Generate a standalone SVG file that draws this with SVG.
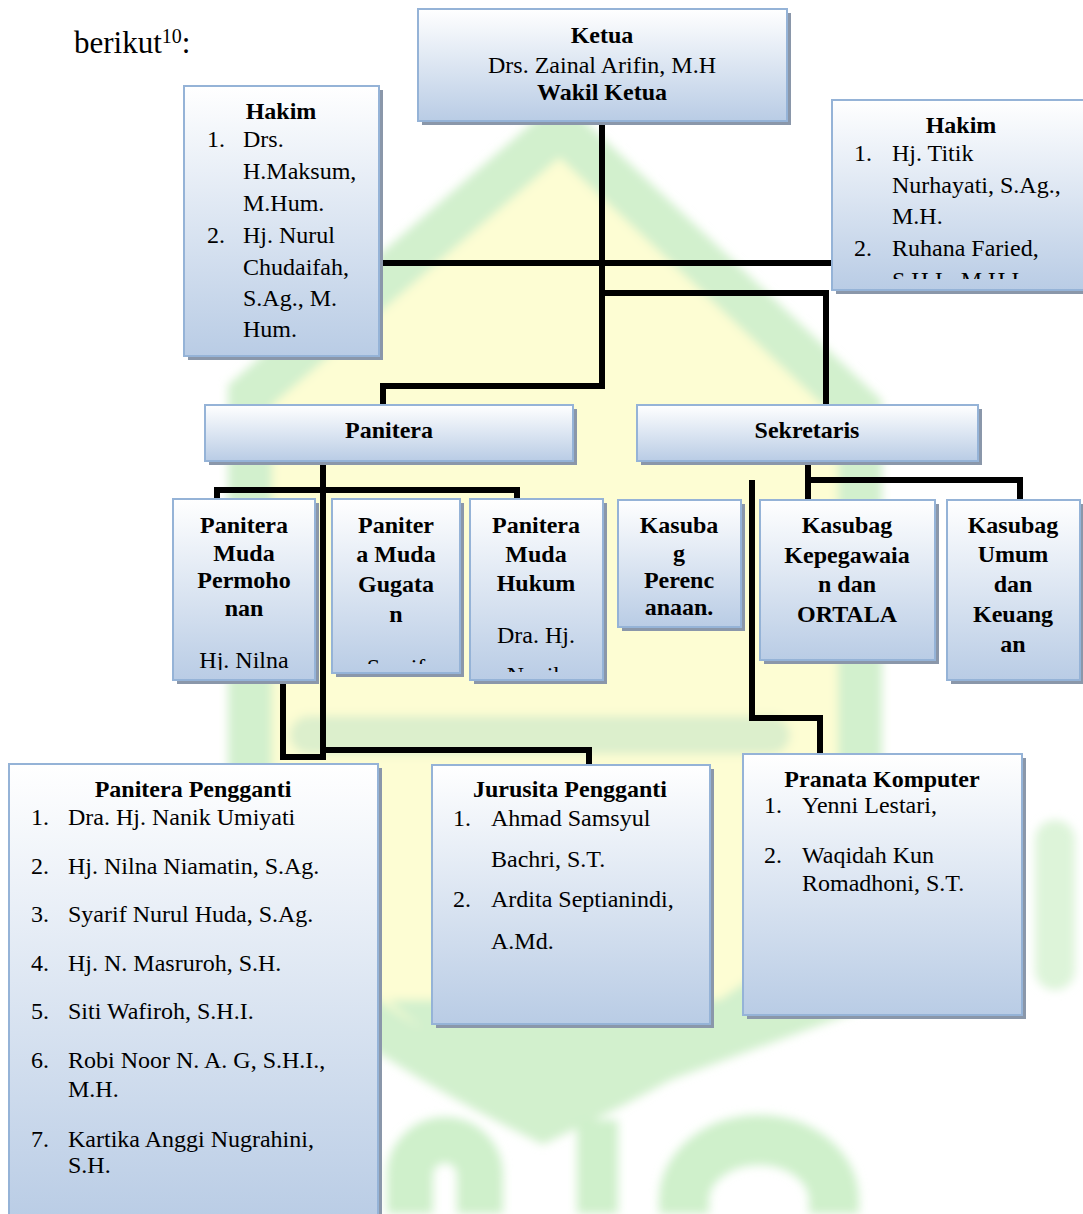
<svg xmlns="http://www.w3.org/2000/svg" width="1083" height="1214" viewBox="0 0 1083 1214">
<style>
text{font-family:"Liberation Serif","Times New Roman",serif;font-size:24px;fill:#000}
.b{font-weight:bold}
.c{text-anchor:middle}
.box{fill:url(#g);stroke:#95b3d7;stroke-width:2}
.sh{fill:#8a97aa}
.ln{fill:none;stroke:#000;stroke-width:6;stroke-linejoin:miter}
</style>
<defs>
<linearGradient id="g" x1="0" y1="0" x2="0" y2="1">
<stop offset="0" stop-color="#ffffff"/>
<stop offset="1" stop-color="#b9cce5"/>
</linearGradient>
<filter id="blur" x="-10%" y="-10%" width="120%" height="120%"><feGaussianBlur stdDeviation="5"/></filter>
<clipPath id="cHR"><rect x="832" y="100" width="260" height="179"/></clipPath>
<clipPath id="cPM1"><rect x="173" y="499" width="142" height="171"/></clipPath>
<clipPath id="cPM2"><rect x="332" y="499" width="128" height="165"/></clipPath>
<clipPath id="cPM3"><rect x="470" y="499" width="133" height="173"/></clipPath>
<clipPath id="cKP"><rect x="618" y="500" width="123" height="117"/></clipPath>
</defs>
<rect width="1083" height="1214" fill="#fff"/>
<g id="watermark" filter="url(#blur)">
<path d="M560,128 L250,395 L250,900 Q300,1000 543,1120 Q800,1000 860,900 L860,410 Z" fill="#fdfdd3" stroke="#d2f0cd" stroke-width="44"/>
<path d="M387,1000 L888,1000 L543,1127 Z" fill="#d2f0cd"/>
<rect x="290" y="716" width="500" height="38" rx="19" fill="#dcefcc"/>
<path d="M410,1214 V1175 A35,35 0 0 1 480,1175 V1214" fill="none" stroke="#cff0cb" stroke-width="46"/>
<rect x="577" y="1120" width="41" height="94" fill="#cff0cb"/>
<path d="M684,1214 V1200 A75,60 0 0 1 834,1200 V1214" fill="none" stroke="#cff0cb" stroke-width="50"/>
<rect x="1035" y="820" width="40" height="170" rx="20" fill="#ddf4d9"/>
</g>
<text x="74" y="53" style="font-size:31px">berikut<tspan dy="-10" style="font-size:20px">10</tspan><tspan dy="10">:</tspan></text>
<g id="connectors">
<path class="ln" d="M602,121 V386 H383 V405"/>
<path class="ln" d="M379,263 H832"/>
<path class="ln" d="M602,293 H826 V405"/>
<path class="ln" d="M217,499 V490 H517 V499"/>
<path class="ln" d="M323,461 V750 H589 V765"/>
<path class="ln" d="M283,680 V757 H323 V745"/>
<path class="ln" d="M808,461 V500 M808,480 H1020 V500"/>
<path class="ln" d="M752,480 V718 H820 V754"/>
</g>
<g id="ketua">
<rect class="sh" x="422" y="13" width="369" height="112"/>
<rect class="box" x="418" y="9" width="369" height="112"/>
<text class="b c" x="602" y="43">Ketua</text>
<text class="c" x="602" y="73">Drs. Zainal Arifin, M.H</text>
<text class="b c" x="602" y="100">Wakil Ketua</text>
</g>
<g id="hakim-kiri">
<rect class="sh" x="188" y="90" width="195" height="270"/>
<rect class="box" x="184" y="86" width="195" height="270"/>
<text class="b c" x="281" y="119">Hakim</text>
<text x="207" y="147">1.</text><text x="243" y="147">Drs.</text>
<text x="243" y="179">H.Maksum,</text>
<text x="243" y="211">M.Hum.</text>
<text x="207" y="243">2.</text><text x="243" y="243">Hj. Nurul</text>
<text x="243" y="275">Chudaifah,</text>
<text x="243" y="306">S.Ag., M.</text>
<text x="243" y="337">Hum.</text>
</g>
<g id="hakim-kanan">
<rect class="sh" x="836" y="104" width="260" height="190"/>
<rect class="box" x="832" y="100" width="260" height="190"/>
<text class="b c" x="961" y="133">Hakim</text>
<text x="854" y="161">1.</text><text x="892" y="161">Hj. Titik</text>
<text x="892" y="193">Nurhayati, S.Ag.,</text>
<text x="892" y="224">M.H.</text>
<text x="854" y="256">2.</text><text x="892" y="256">Ruhana Faried,</text>
<text x="892" y="288" clip-path="url(#cHR)">S.H.I., M.H.I.</text>
</g>
<g id="panitera">
<rect class="sh" x="209" y="409" width="368" height="56"/>
<rect class="box" x="205" y="405" width="368" height="56"/>
<text class="b c" x="389" y="438">Panitera</text>
</g>
<g id="sekretaris">
<rect class="sh" x="641" y="409" width="341" height="56"/>
<rect class="box" x="637" y="405" width="341" height="56"/>
<text class="b c" x="807" y="438">Sekretaris</text>
</g>
<g id="pm-permohonan">
<rect class="sh" x="177" y="503" width="142" height="181"/>
<rect class="box" x="173" y="499" width="142" height="181"/>
<text class="b c" x="244" y="533">Panitera</text>
<text class="b c" x="244" y="561">Muda</text>
<text class="b c" x="244" y="588">Permoho</text>
<text class="b c" x="244" y="616">nan</text>
<text class="c" x="244" y="668" clip-path="url(#cPM1)">Hj. Nilna</text>
</g>
<g id="pm-gugatan">
<rect class="sh" x="336" y="503" width="128" height="174"/>
<rect class="box" x="332" y="499" width="128" height="174"/>
<text class="b c" x="396" y="533">Paniter</text>
<text class="b c" x="396" y="562">a Muda</text>
<text class="b c" x="396" y="592">Gugata</text>
<text class="b c" x="396" y="622">n</text>
<text class="c" x="396" y="675" clip-path="url(#cPM2)">Syarif</text>
</g>
<g id="pm-hukum">
<rect class="sh" x="474" y="503" width="133" height="181"/>
<rect class="box" x="470" y="499" width="133" height="181"/>
<text class="b c" x="536" y="533">Panitera</text>
<text class="b c" x="536" y="562">Muda</text>
<text class="b c" x="536" y="591">Hukum</text>
<text class="c" x="536" y="643">Dra. Hj.</text>
<text class="c" x="536" y="683" clip-path="url(#cPM3)">Nanik</text>
</g>
<g id="kasubag-perencanaan">
<rect class="sh" x="622" y="504" width="123" height="127"/>
<rect class="box" x="618" y="500" width="123" height="127"/>
<g clip-path="url(#cKP)">
<text class="b c" x="679" y="533">Kasuba</text>
<text class="b c" x="679" y="561">g</text>
<text class="b c" x="679" y="588">Perenc</text>
<text class="b c" x="679" y="615">anaan.</text>
</g>
</g>
<g id="kasubag-kepegawaian">
<rect class="sh" x="764" y="504" width="175" height="160"/>
<rect class="box" x="760" y="500" width="175" height="160"/>
<text class="b c" x="847" y="533">Kasubag</text>
<text class="b c" x="847" y="563">Kepegawaia</text>
<text class="b c" x="847" y="592">n dan</text>
<text class="b c" x="847" y="622">ORTALA</text>
</g>
<g id="kasubag-umum">
<rect class="sh" x="951" y="504" width="133" height="180"/>
<rect class="box" x="947" y="500" width="133" height="180"/>
<text class="b c" x="1013" y="533">Kasubag</text>
<text class="b c" x="1013" y="562">Umum</text>
<text class="b c" x="1013" y="592">dan</text>
<text class="b c" x="1013" y="622">Keuang</text>
<text class="b c" x="1013" y="652">an</text>
</g>
<g id="panitera-pengganti">
<rect class="sh" x="13" y="768" width="369" height="460"/>
<rect class="box" x="9" y="764" width="369" height="460"/>
<text class="b c" x="193" y="797">Panitera Pengganti</text>
<text x="31" y="825">1.</text><text x="68" y="825">Dra. Hj. Nanik Umiyati</text>
<text x="31" y="874">2.</text><text x="68" y="874">Hj. Nilna Niamatin, S.Ag.</text>
<text x="31" y="922">3.</text><text x="68" y="922">Syarif Nurul Huda, S.Ag.</text>
<text x="31" y="971">4.</text><text x="68" y="971">Hj. N. Masruroh, S.H.</text>
<text x="31" y="1019">5.</text><text x="68" y="1019">Siti Wafiroh, S.H.I.</text>
<text x="31" y="1068">6.</text><text x="68" y="1068">Robi Noor N. A. G, S.H.I.,</text>
<text x="68" y="1097">M.H.</text>
<text x="31" y="1147">7.</text><text x="68" y="1147">Kartika Anggi Nugrahini,</text>
<text x="68" y="1173">S.H.</text>
</g>
<g id="jurusita-pengganti">
<rect class="sh" x="436" y="769" width="278" height="259"/>
<rect class="box" x="432" y="765" width="278" height="259"/>
<text class="b c" x="570" y="797">Jurusita Pengganti</text>
<text x="453" y="826">1.</text><text x="491" y="826">Ahmad Samsyul</text>
<text x="491" y="867">Bachri, S.T.</text>
<text x="453" y="907">2.</text><text x="491" y="907">Ardita Septianindi,</text>
<text x="491" y="949">A.Md.</text>
</g>
<g id="pranata-komputer">
<rect class="sh" x="747" y="758" width="279" height="261"/>
<rect class="box" x="743" y="754" width="279" height="261"/>
<text class="b c" x="882" y="787">Pranata Komputer</text>
<text x="764" y="813">1.</text><text x="802" y="813">Yenni Lestari,</text>
<text x="764" y="863">2.</text><text x="802" y="863">Waqidah Kun</text>
<text x="802" y="891">Romadhoni, S.T.</text>
</g>
</svg>
